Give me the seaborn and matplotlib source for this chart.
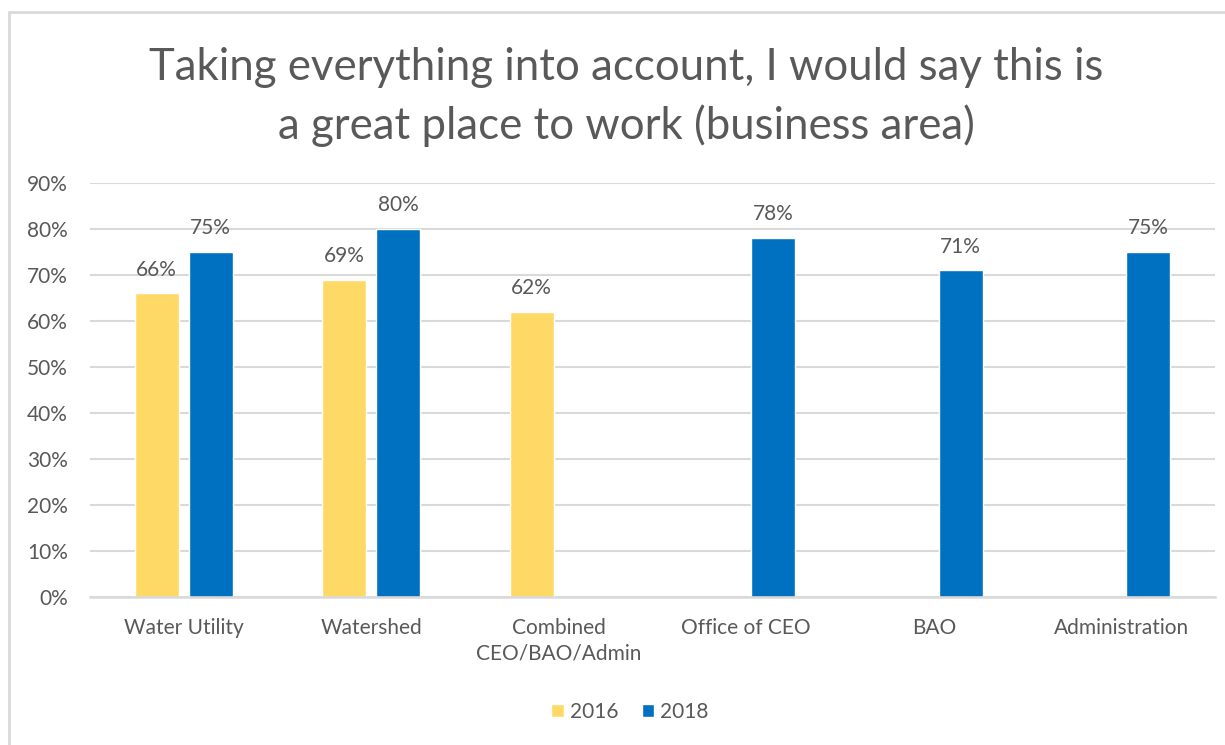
import matplotlib
matplotlib.use("Agg")
import matplotlib.pyplot as plt
from matplotlib.lines import Line2D
import numpy as np
import pandas as pd
import seaborn as sns

categories = ["Water Utility", "Watershed", "Combined\nCEO/BAO/Admin",
              "Office of CEO", "BAO", "Administration"]
values_2016 = [0.66, 0.69, 0.62, np.nan, np.nan, np.nan]
values_2018 = [0.75, 0.80, np.nan, 0.78, 0.71, 0.75]
years = ["2016", "2018"]
colors = ["#FFD966", "#0070C0"]
yticks = [0.0, 0.1, 0.2, 0.3, 0.4, 0.5, 0.6, 0.7, 0.8, 0.9]

df = pd.DataFrame({
    "area": categories * 2,
    "year": [years[0]] * len(categories) + [years[1]] * len(categories),
    "value": values_2016 + values_2018,
})

sns.set_theme(style="white")
plt.rcParams["font.family"] = ["Lato", "DejaVu Sans"]

txt = "#595959"
grid = "#D9D9D9"

fig = plt.figure(figsize=(12.25, 7.45), dpi=100)
ax = fig.add_axes([90 / 1225, 1 - 597 / 745, (1215 - 90) / 1225, (597 - 183) / 745])

sns.barplot(data=df, x="area", y="value", hue="year", order=categories,
            hue_order=years, palette=colors, width=0.576, gap=0.18,
            saturation=1, ax=ax, legend=True, errorbar=None)

ax.set_ylim(0, 0.9)
ax.set_xlim(-0.5, len(categories) - 0.5)
ax.set_yticks(yticks)
ax.set_yticklabels([f"{int(round(t * 100))}%" for t in yticks])
ax.yaxis.grid(True, color=grid, linewidth=1.5)
ax.set_axisbelow(True)
for s in ["top", "right", "left"]:
    ax.spines[s].set_visible(False)
ax.spines["bottom"].set_color(grid)
ax.spines["bottom"].set_linewidth(1.8)
ax.tick_params(axis="both", length=0, colors=txt, labelsize=15)
ax.tick_params(axis="x", pad=15)
ax.tick_params(axis="y", pad=16)
for lab in ax.get_xticklabels():
    lab.set_linespacing(1.35)
ax.set_xlabel("")
ax.set_ylabel("")

for cont in ax.containers:
    labels = [f"{int(round(v * 100))}%" if not np.isnan(v) else "" for v in cont.datavalues]
    ax.bar_label(cont, labels=labels, padding=10, color=txt, fontsize=15)

leg = ax.legend(loc="center", bbox_to_anchor=(0.48, -0.277), ncol=2, frameon=False,
                fontsize=15, handlelength=0.6, handleheight=0.6, handletextpad=0.3,
                columnspacing=1.1)
for t in leg.get_texts():
    t.set_color(txt)

fig.text(0.511, 1 - 97 / 745,
         "Taking everything into account, I would say this is\na great place to work (business area)",
         ha="center", va="center", fontsize=31.5, color=txt, linespacing=1.45)

# chart frame edges
fig.add_artist(Line2D([9 / 1225, 9 / 1225], [0, 1 - 12 / 745], color=grid, linewidth=2,
                      transform=fig.transFigure))
fig.add_artist(Line2D([9 / 1225, 1], [1 - 12 / 745, 1 - 12 / 745], color=grid, linewidth=2,
                      transform=fig.transFigure))

fig.savefig("out.png", dpi=100, facecolor="white")
